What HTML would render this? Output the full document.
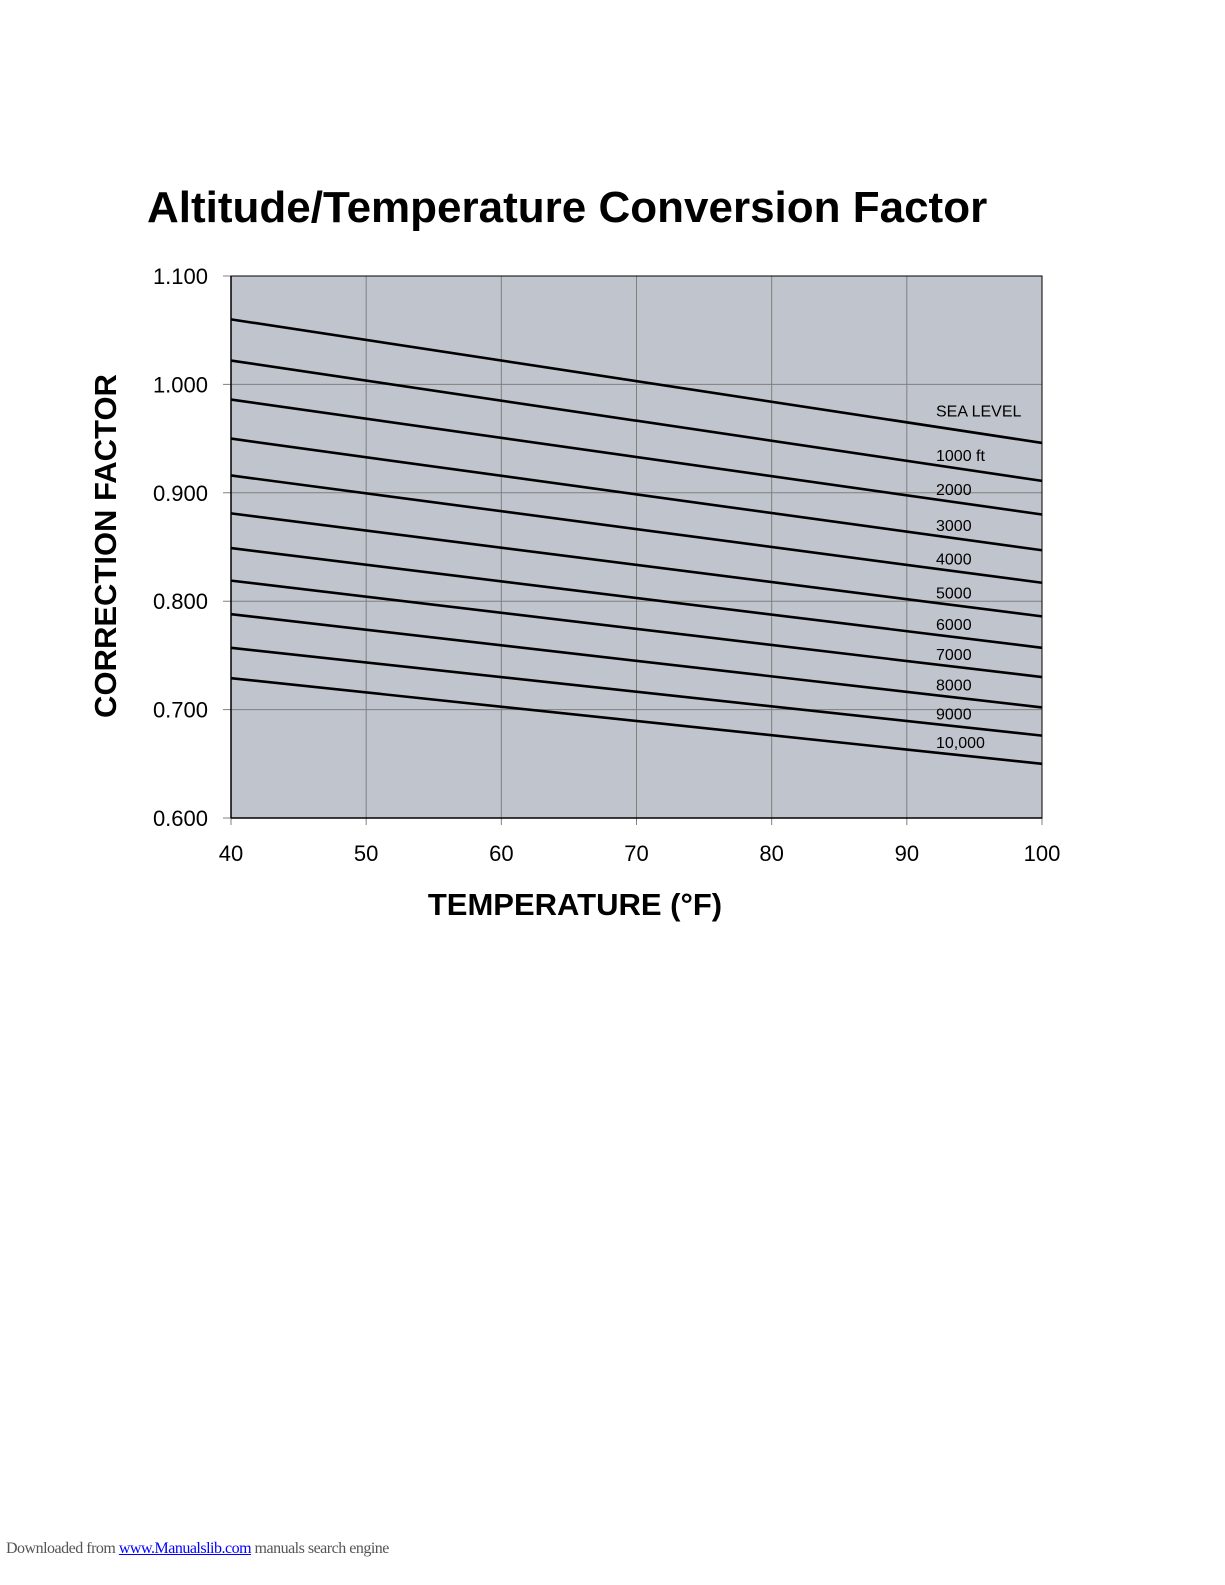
<!DOCTYPE html>
<html><head><meta charset="utf-8"><style>
body{margin:0;background:#fff;width:1225px;height:1585px;position:relative;overflow:hidden;font-family:"Liberation Sans",sans-serif}
#footer{position:absolute;left:6px;top:1540px;font-family:"Liberation Serif",serif;font-size:16px;color:#555;letter-spacing:-0.5px}
#footer span{color:#00f;text-decoration:underline}
</style></head><body>
<svg id="chart" width="1225" height="1585" style="position:absolute;left:0;top:0">
<text x="147" y="222" font-size="44" font-weight="bold" font-family="Liberation Sans, sans-serif">Altitude/Temperature Conversion Factor</text>
<g id="plot"></g>
<text x="575" y="915" font-size="31" font-weight="bold" text-anchor="middle" font-family="Liberation Sans, sans-serif">TEMPERATURE (°F)</text>
<text transform="translate(116,546) rotate(-90)" font-size="31" font-weight="bold" text-anchor="middle" font-family="Liberation Sans, sans-serif">CORRECTION FACTOR</text>
</svg>
<div id="footer">Downloaded from <span>www.Manualslib.com</span>  manuals search engine</div>
<script>
const xTicks=[40,50,60,70,80,90,100];
const yTicks=[0.6,0.7,0.8,0.9,1.0,1.1];
const yTickLabels=["0.600","0.700","0.800","0.900","1.000","1.100"];
const seriesNames=["SEA LEVEL","1000 ft","2000","3000","4000","5000","6000","7000","8000","9000","10,000"];
const valuesAt40=[1.060,1.022,0.986,0.950,0.916,0.881,0.849,0.819,0.788,0.757,0.729];
const valuesAt100=[0.946,0.911,0.880,0.847,0.817,0.786,0.757,0.730,0.702,0.676,0.650];
const X0=231,X1=1042,Y0=818,Y1=276;
const sx=v=>X0+(v-40)/60*(X1-X0);
const sy=v=>Y0-(v-0.6)/0.5*(Y0-Y1);
const NS="http://www.w3.org/2000/svg";
const g=document.getElementById('plot');
function mk(t,a){const e=document.createElementNS(NS,t);for(const k in a)e.setAttribute(k,a[k]);g.appendChild(e);return e;}
let r=mk('rect',{x:X0,y:Y1,width:X1-X0,height:Y0-Y1,fill:'#c0c4cc'});


xTicks.forEach(t=>{
 let l=mk('line',{x1:sx(t),x2:sx(t),y1:Y1,y2:Y0+7,stroke:'#808080','stroke-width':1});
 
 
 let tx=mk('text',{x:sx(t),y:Y0+43,'font-size':22,'text-anchor':'middle'});
 tx.textContent=t;
 
 
});
yTicks.forEach((t,i)=>{
 let l=mk('line',{x1:X0-8,x2:X1,y1:sy(t),y2:sy(t),stroke:'#808080','stroke-width':1});
 
 
 let tx=mk('text',{x:208,y:sy(t)+8,'font-size':22,'text-anchor':'end'});
 tx.textContent=yTickLabels[i];
 
 
});
mk('rect',{x:X0,y:Y1,width:X1-X0,height:Y0-Y1,fill:'none',stroke:'#000','stroke-width':1});
mk('line',{x1:X0,x2:X0,y1:Y1,y2:Y0,stroke:'#000','stroke-width':1.5});
mk('line',{x1:X0,x2:X1,y1:Y0,y2:Y0,stroke:'#000','stroke-width':1.5});
seriesNames.forEach((n,i)=>{
 let l=mk('line',{x1:sx(40),y1:sy(valuesAt40[i]),x2:sx(100),y2:sy(valuesAt100[i]),stroke:'#000','stroke-width':2.6});
 
 
 const v=valuesAt40[i]+(valuesAt100[i]-valuesAt40[i])*(93-40)/60;
 let tx=mk('text',{x:936,y:sy(v)-(i==0?12:6),'font-size':16});
 tx.textContent=n;
 
 
});
</script>
</body></html>
